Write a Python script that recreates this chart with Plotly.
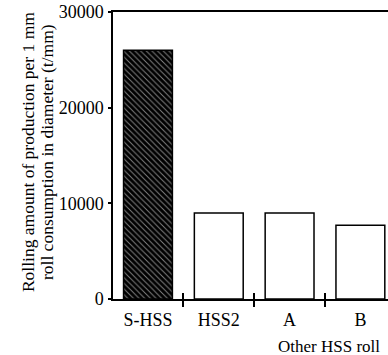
import plotly.graph_objects as go

categories = ["S-HSS", "HSS2", "A", "B"]
values = [26000, 9000, 9000, 7700]
y_ticks = [0, 10000, 20000, 30000]
y_tick_labels = ["0", "10000", "20000", "30000"]
y_title_lines = ["Rolling amount of production per 1 mm",
                 "roll consumption in diameter (t/mm)"]
group_label = "Other HSS roll"

FONT = "Liberation Serif"

fig = go.Figure()
fig.add_trace(go.Bar(
    x=categories, y=values, width=0.69,
    marker=dict(
        color=["black", "white", "white", "white"],
        line=dict(color="black", width=1.5),
        pattern=dict(shape=["\\", "", "", ""], fgcolor="white", bgcolor="black",
                     fillmode="overlay", size=4, solidity=0.25),
    ),
    showlegend=False,
))

fig.update_layout(
    width=388, height=355,
    margin=dict(l=113, r=0, t=12, b=56),
    paper_bgcolor="white", plot_bgcolor="white",
    font=dict(family=FONT, size=18, color="black"),
    xaxis=dict(type="category", range=[-0.494, 3.39], showline=True, linecolor="black",
               linewidth=1.5, mirror=True, ticks="outside", tickson="boundaries",
               ticklen=6, tickwidth=1.5, tickcolor="black", showgrid=False,
               ticklabelstandoff=4, tickfont=dict(family=FONT, size=18)),
    xaxis2=dict(overlaying="x", range=[-0.494, 3.39], tickmode="array",
                tickvals=[0.5, 1.5, 2.5], ticks="inside", ticklen=6, tickwidth=1.5,
                tickcolor="black", showticklabels=False, showgrid=False,
                showline=False, zeroline=False, side="bottom", anchor="y"),
    yaxis=dict(range=[0, 30000], tickvals=y_ticks, ticktext=y_tick_labels,
               showline=True, linecolor="black",
               linewidth=1.5, ticks="outside", ticklen=3, tickwidth=1.5,
               tickcolor="black", showgrid=False, zeroline=False,
               ticklabelstandoff=1, tickfont=dict(family=FONT, size=18)),
)

# empty helper trace so the overlay axis is drawn
fig.add_trace(go.Scatter(x=[], y=[], xaxis="x2", yaxis="y", showlegend=False))

title_x = [-0.309, -0.24]
for line, xp in zip(y_title_lines, title_x):
    fig.add_annotation(text=line, xref="paper", yref="paper", x=xp, y=0.512,
                       textangle=-90, showarrow=False, xanchor="center",
                       yanchor="middle", font=dict(family=FONT, size=17.5))

fig.add_annotation(text=group_label, xref="paper", yref="paper", x=0.787, y=-0.167,
                   showarrow=False, xanchor="center", yanchor="middle",
                   font=dict(family=FONT, size=17))

fig.write_html("out.html", config={"displayModeBar": False},
               post_script="document.body.style.margin='0px';")
